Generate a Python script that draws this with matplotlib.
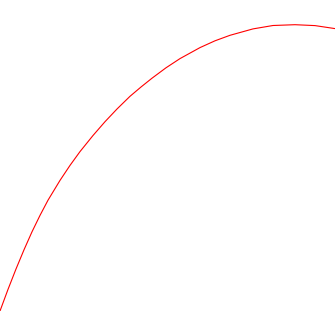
import matplotlib
matplotlib.use("Agg")
import matplotlib.pyplot as plt

# values (x, height above bottom edge, in pixels)
x_vals = [0, 8, 16, 24, 32, 40, 48, 60, 70, 80, 93, 105, 117, 130, 141, 152,
          166, 180, 200, 215, 230, 253, 273, 295, 315, 335]
y_vals = [0, 21.6, 42, 61.2, 79.2, 95.6, 110.8, 130.6, 145.6, 159.4, 175.5, 189.3,
          202, 214.7, 224, 232.8, 243.2, 252.4, 263.4, 270.2, 275.7, 282.1, 285.5,
          286.3, 285.4, 282.4]

fig = plt.figure(figsize=(3.35, 3.11), dpi=100)
ax = fig.add_axes([0, 0, 1, 1])
ax.plot(x_vals, y_vals, color="#ff0000", lw=0.8, solid_capstyle="butt")
ax.set_xlim(0, 335)
ax.set_ylim(0, 311)
ax.axis("off")
fig.savefig("out.png", dpi=100, facecolor="white")
